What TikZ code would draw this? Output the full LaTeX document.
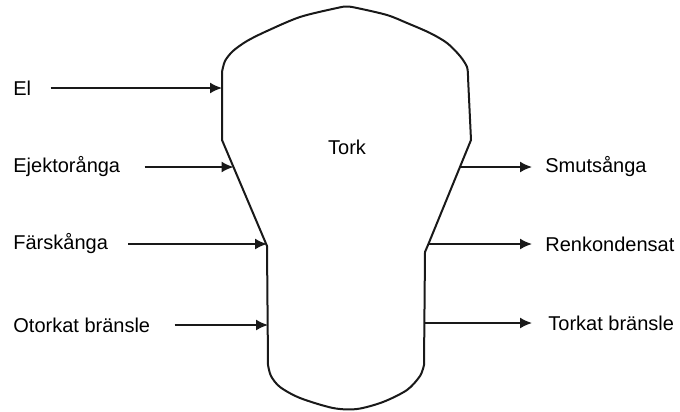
\documentclass[tikz,border=0pt]{standalone}
\usepackage{fontspec}
\setmainfont{Liberation Sans}
\usetikzlibrary{arrows.meta}

\begin{document}
\begin{tikzpicture}[
  x=0.5pt, y=-0.5pt,
  vessel/.style={draw=black!90, line width=1pt, line join=round},
  flow/.style={-{Latex[length=6pt, width=5.5pt]}, line width=0.8pt, draw=black!90},
  inlbl/.style={anchor=west, inner sep=0pt, font=\fontsize{10}{12}\selectfont},
  outlbl/.style={anchor=west, inner sep=0pt, font=\fontsize{10}{12}\selectfont}
]
\useasboundingbox (0,0) rectangle (680,412);

% the dryer vessel
\draw[vessel] plot[smooth, tension=0.5] coordinates {(222,72) (225,61) (233,51) (247,41)
    (267,31) (300,17) (337,8) (347,6.5) (357,8) (387,15) (407,23) (430,33) (447,43)
    (460,56) (467,67) (468,77)}
  -- (471,140) -- (428,245) -- (425,252) -- (424,365)
  -- plot[smooth, tension=0.5] coordinates {(424,365) (420,376) (407,390) (383,402)
    (357,409) (333,408) (300,398) (280,387) (271,376) (268,365)}
  -- (267,246) -- (222,140) -- cycle;

\node[font=\fontsize{10}{12}\selectfont] (tork) at (347,147) {Tork};

% connection points on the outline
\coordinate (in1) at (222,88);
\coordinate (in2) at (233.5,167);
\coordinate (in3) at (267,244);
\coordinate (in4) at (268,325);
\coordinate (out1) at (460,167);
\coordinate (out2) at (428,244);
\coordinate (out3) at (424,323);
\coordinate (end1) at (532,167);
\coordinate (end2) at (532,244);
\coordinate (end3) at (532,323);

% inflows
\node[inlbl] (el)  at (13,88)  {El};
\node[inlbl] (ejk) at (13,167) {Ejektorånga};
\node[inlbl] (fsk) at (13,244) {Färskånga};
\node[inlbl] (otb) at (13,325) {Otorkat bränsle};

\draw[flow] ([xshift=9.5pt]el.east)  -- (in1);
\draw[flow] ([xshift=12pt]ejk.east) -- (in2);
\draw[flow] ([xshift=10pt]fsk.east) -- (in3);
\draw[flow] ([xshift=12pt]otb.east) -- (in4);

% outflows
\node[outlbl] (smu) at (545,167) {Smutsånga};
\node[outlbl] (ren) at (545,244) {Renkondensat};
\node[outlbl] (tkb) at (548,323) {Torkat bränsle};

\draw[flow] (out1) -- (end1);
\draw[flow] (out2) -- (end2);
\draw[flow] (out3) -- (end3);

\end{tikzpicture}
\end{document}
